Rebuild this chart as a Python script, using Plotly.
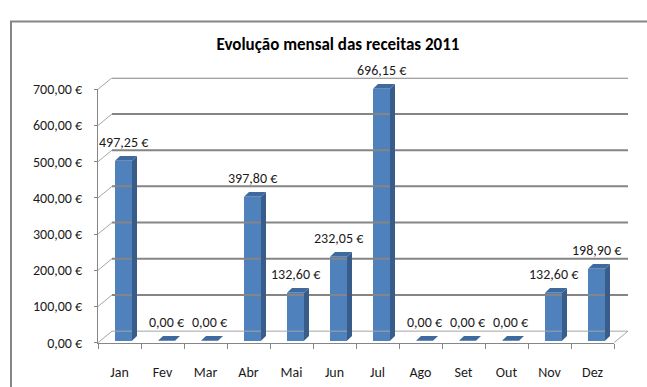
import plotly.graph_objects as go

# ---- data ----
months = ["Jan", "Fev", "Mar", "Abr", "Mai", "Jun", "Jul", "Ago", "Set", "Out", "Nov", "Dez"]
receitas = [497.25, 0.00, 0.00, 397.80, 132.60, 232.05, 696.15, 0.00, 0.00, 0.00, 132.60, 198.90]
y_ticks = [0, 100, 200, 300, 400, 500, 600, 700]
title_text = "Evolução mensal das receitas 2011"

# ---- page geometry (pixels) ----
W, H = 647, 387
FONT = "Calibri, Carlito, Lato, sans-serif"

def fx(px):
    return px / W

def fy(py):
    return 1 - py / H

def euro(v):
    return f"{v:.2f}".replace(".", ",") + " €"

# front plane of the pseudo-3D box
X0, X1 = 98, 614          # category axis extent
Y0, Y700 = 350, 85        # value 0 and value 700
cat_px = (X1 - X0) / len(months)
val_px = (Y0 - Y700) / 700.0

# depth of the box (front plane -> back wall), in pixels
WALL_DX, WALL_DY = 14, 12
# bar placement relative to the front plane, and bar depth
BAR_SHIFT_X, BAR_SHIFT_Y = 4, 2
BAR_W = 17
BAR_DX, BAR_DY = 5, 5

# the same offsets in data units
DX = WALL_DX / cat_px
DY = WALL_DY / val_px
bsx = BAR_SHIFT_X / cat_px
bsy = BAR_SHIFT_Y / val_px
bw = BAR_W / cat_px
bdx = BAR_DX / cat_px
bdy = BAR_DY / val_px

xs = list(range(len(months)))

fig = go.Figure()

# invisible trace that registers the month categories on the front axis
fig.add_trace(go.Scatter(x=months, y=receitas, mode="markers",
                         marker=dict(opacity=0), hoverinfo="skip",
                         showlegend=False, xaxis="x", yaxis="y"))

# ---- drawing canvas (x2/y2) covering front plane + depth ----
xmin, xmax = -0.5, len(months) - 0.5

# back wall gridlines
gx, gy = [], []
for v in y_ticks[1:]:
    gx += [xmin + DX, xmax + DX, None]
    gy += [v + DY, v + DY, None]
fig.add_trace(go.Scatter(x=gx, y=gy, mode="lines",
                         line=dict(color="#858585", width=2),
                         hoverinfo="skip", showlegend=False, xaxis="x2", yaxis="y2"))

# floor back edge, left wall ties and floor right tie
lx, ly = [xmin + DX, xmax + DX, None], [DY, DY, None]
for v in y_ticks:
    lx += [xmin, xmin + DX, None]
    ly += [v, v + DY, None]
lx += [xmax, xmax + DX, None]
ly += [0, DY, None]
fig.add_trace(go.Scatter(x=lx, y=ly, mode="lines",
                         line=dict(color="#a6a6a6", width=1),
                         hoverinfo="skip", showlegend=False, xaxis="x2", yaxis="y2"))

# bar front faces
fig.add_trace(go.Bar(x=[i + bsx for i in xs], y=receitas, base=[bsy] * len(xs),
                     width=bw, marker=dict(color="#4F81BD", line=dict(width=0)),
                     hoverinfo="skip", showlegend=False, xaxis="x2", yaxis="y2"))

# bar side faces
sx, sy = [], []
for i, v in zip(xs, receitas):
    if v <= 0:
        continue
    xr = i + bsx + bw / 2
    sx += [xr, xr, xr + bdx, xr + bdx, xr, None]
    sy += [bsy, bsy + v, bsy + v + bdy, bsy + bdy, bsy, None]
fig.add_trace(go.Scatter(x=sx, y=sy, mode="lines", fill="toself",
                         fillcolor="#385D8A", line=dict(width=0, color="#385D8A"),
                         hoverinfo="skip", showlegend=False, xaxis="x2", yaxis="y2"))

# bar top faces
tx, ty = [], []
for i, v in zip(xs, receitas):
    xl = i + bsx - bw / 2
    xr = i + bsx + bw / 2
    top = bsy + v
    tx += [xl, xr, xr + bdx, xl + bdx, xl, None]
    ty += [top, top, top + bdy, top + bdy, top, None]
fig.add_trace(go.Scatter(x=tx, y=ty, mode="lines", fill="toself",
                         fillcolor="#3F6A9F", line=dict(width=0, color="#3F6A9F"),
                         hoverinfo="skip", showlegend=False, xaxis="x2", yaxis="y2"))

# value labels
for i, v in zip(xs, receitas):
    fig.add_annotation(x=i + bsx, y=bsy + v, xref="x2", yref="y2",
                       text=euro(v), showarrow=False, yshift=18,
                       font=dict(family=FONT, size=14, color="#1a1a1a"))

# chart frame
fig.add_shape(type="rect", xref="paper", yref="paper",
              x0=fx(11), y0=-0.2, x1=1.2, y1=fy(14),
              line=dict(color="#868686", width=2), fillcolor="rgba(0,0,0,0)",
              layer="below")

fig.update_layout(
    width=W, height=H,
    margin=dict(l=0, r=0, t=0, b=0),
    paper_bgcolor="white", plot_bgcolor="rgba(0,0,0,0)",
    showlegend=False,
    font=dict(family=FONT, size=14, color="#1a1a1a"),
    title=dict(text=title_text, x=fx(338), y=fy(38), xref="paper", yref="paper",
               xanchor="center", yanchor="middle",
               font=dict(family=FONT, size=17, color="#000000", weight=600)),
    xaxis=dict(domain=[fx(X0), fx(X1)], type="category", range=[xmin, xmax],
               categoryorder="array", categoryarray=months,
               showgrid=False, zeroline=False,
               showline=True, linecolor="#868686", linewidth=1,
               ticks="outside", tickson="boundaries", ticklen=5, tickcolor="#868686",
               ticklabelstandoff=17,
               tickfont=dict(family=FONT, size=14, color="#1a1a1a"),
               anchor="y", fixedrange=True),
    yaxis=dict(domain=[fy(Y0), fy(Y700)], range=[0, 700],
               tickmode="array", tickvals=y_ticks, ticktext=[euro(v) for v in y_ticks],
               showgrid=False, zeroline=False,
               showline=True, linecolor="#868686", linewidth=1,
               ticks="outside", ticklen=3, tickcolor="#868686",
               ticklabelstandoff=9,
               tickfont=dict(family=FONT, size=14, color="#1a1a1a"),
               anchor="x", fixedrange=True),
    xaxis2=dict(domain=[fx(X0), fx(X1 + WALL_DX)], range=[xmin, xmax + DX],
                visible=False, anchor="y2", fixedrange=True),
    yaxis2=dict(domain=[fy(Y0), fy(Y700 - WALL_DY)], range=[0, 700 + DY],
                visible=False, anchor="x2", fixedrange=True),
    bargap=0,
)

fig.write_html("out.html")
